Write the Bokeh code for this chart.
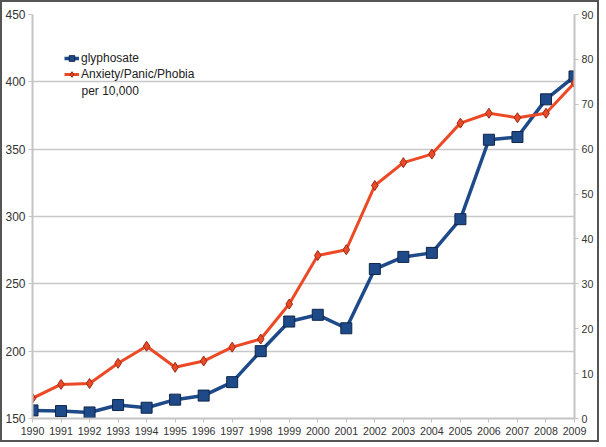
from bokeh.plotting import figure
from bokeh.models import Range1d, LinearAxis, FixedTicker, Legend, LegendItem, Label
from bokeh.embed import file_html
from bokeh.resources import INLINE

years = list(range(1990, 2010))
glyphosate = [156, 155.5, 154.5, 160, 158, 164, 167, 177, 200, 222, 227, 217,
              261, 270, 273, 298, 357, 359, 387, 404]
anxiety = [4.5, 7.6, 7.8, 12.3, 16.1, 11.4, 12.8, 15.9, 17.7, 25.5, 36.3, 37.6,
           51.9, 57.0, 58.9, 65.8, 68.0, 67.0, 68.0, 74.8]
left_ticks = [150, 200, 250, 300, 350, 400, 450]
right_ticks = [0, 10, 20, 30, 40, 50, 60, 70, 80, 90]

BLUE = "#1f4a8a"
RED = "#ec4a26"
FONT = "Liberation Sans"

p = figure(output_backend="svg", toolbar_location=None,
           x_range=Range1d(1990, 2009), y_range=Range1d(150, 450),
           min_border_left=25, min_border_right=23, min_border_top=12, min_border_bottom=22,
           frame_width=542, frame_height=404)
p.styles = {"border": "2px solid #555", "box-sizing": "border-box"}
p.outline_line_color = None
p.background_fill_color = "white"
p.extra_y_ranges = {"right": Range1d(0, 90)}

p.xgrid.grid_line_color = None
p.ygrid.grid_line_color = "#c8c8c8"
p.ygrid.grid_line_width = 1.5
p.ygrid.ticker = FixedTicker(ticks=left_ticks)

for ax in [p.xaxis[0], p.yaxis[0]]:
    ax.axis_line_color = "#c4c4c4"
    ax.axis_line_width = 2
    ax.major_tick_line_color = "#c4c4c4"
    ax.major_tick_out = 4
    ax.major_tick_in = 0
    ax.minor_tick_line_color = None
    ax.major_label_text_font = FONT
    ax.major_label_text_font_size = "9pt"
    ax.major_label_text_color = "#333333"
    ax.major_label_standoff = 3

p.xaxis.ticker = FixedTicker(ticks=years)
p.xaxis.major_label_text_font_size = "8pt"
p.xaxis.major_label_standoff = 4
p.yaxis.ticker = FixedTicker(ticks=left_ticks)

ra = LinearAxis(y_range_name="right", ticker=FixedTicker(ticks=right_ticks))
ra.axis_line_color = "#c4c4c4"
ra.axis_line_width = 2
ra.major_tick_line_color = "#c4c4c4"
ra.major_tick_out = 4
ra.major_tick_in = 0
ra.minor_tick_line_color = None
ra.major_label_text_font = FONT
ra.major_label_text_font_size = "8pt"
ra.major_label_text_color = "#333333"
ra.major_label_standoff = 3
p.add_layout(ra, "right")

gl = p.line(years, glyphosate, line_color=BLUE, line_width=3.5)
gs = p.scatter(years, glyphosate, marker="square", size=11, fill_color=BLUE,
               line_color="#0e2547", line_width=1)
al = p.line(years, anxiety, line_color=RED, line_width=3, y_range_name="right")
asc = p.scatter(years, anxiety, marker="diamond", size=10, fill_color=RED,
                line_color="#9b2a14", line_width=1, y_range_name="right")

legend = Legend(items=[LegendItem(label="glyphosate", renderers=[gl, gs]),
                       LegendItem(label="Anxiety/Panic/Phobia", renderers=[al, asc])],
                location=(32, 337), margin=0, padding=0, spacing=2,
                border_line_color=None, background_fill_alpha=0,
                label_text_font=FONT, label_text_font_size="9pt",
                label_text_color="#222222", glyph_width=15, glyph_height=14,
                label_height=14, label_standoff=2)
p.add_layout(legend)
p.add_layout(Label(x=49, y=328, x_units="screen", y_units="screen", text="per 10,000",
                   text_font=FONT, text_font_size="9pt", text_color="#222222",
                   text_baseline="middle", text_align="left"))

open("out.html", "w").write(file_html(p, INLINE))
